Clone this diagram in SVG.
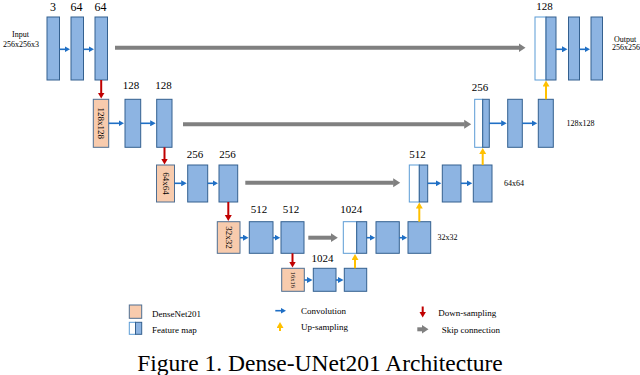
<svg xmlns="http://www.w3.org/2000/svg" width="640" height="375" viewBox="0 0 640 375">
<style>
text{font-family:"Liberation Serif","Times New Roman",serif;fill:#000}
.num{font-size:11px;text-anchor:middle}
.num1{font-size:12px;text-anchor:middle}
.sm{font-size:8px;text-anchor:middle}
.rot{font-size:9px;text-anchor:middle}
.leg{font-size:9px}
.cap{font-size:23.5px;text-anchor:middle}
.b{fill:#8DB4E2;stroke:#34608F;stroke-width:1}
.o{fill:#F8CBAD;stroke:#4E6E92;stroke-width:1}
.w{fill:#fff;stroke:#5B9BD5;stroke-width:1}
.conv{stroke:#1F6FC5;stroke-width:1.6;fill:none;marker-end:url(#mb)}
.skip{stroke:#808080;stroke-width:4;fill:none;marker-end:url(#mg)}
.down{stroke:#C00000;stroke-width:2;fill:none;marker-end:url(#mr)}
.up{stroke:#FFC000;stroke-width:2;fill:none;marker-end:url(#my)}
</style>
<defs>
<marker id="mb" markerUnits="userSpaceOnUse" markerWidth="6" markerHeight="6" refX="0.5" refY="3" orient="auto"><path d="M0,0 L5.5,3 L0,6 z" fill="#1F6FC5"/></marker>
<marker id="mg" markerUnits="userSpaceOnUse" markerWidth="8" markerHeight="10" refX="0.5" refY="5" orient="auto"><path d="M0,0.5 L7,5 L0,9.5 z" fill="#808080"/></marker>
<marker id="mr" markerUnits="userSpaceOnUse" markerWidth="8" markerHeight="8" refX="0.5" refY="3.5" orient="auto"><path d="M0,0 L6,3.5 L0,7 z" fill="#C00000"/></marker>
<marker id="my" markerUnits="userSpaceOnUse" markerWidth="8" markerHeight="8" refX="0.5" refY="3.5" orient="auto"><path d="M0,0 L6,3.5 L0,7 z" fill="#FFC000"/></marker>
</defs>

<!-- Level 1 -->
<g id="input-label"><text class="sm" x="20.5" y="37">Input</text><text class="sm" x="21" y="46.5">256x256x3</text></g>
<g id="e1a"><rect class="b" x="47" y="17" width="12.5" height="63"/><text class="num1" x="53" y="11">3</text></g>
<g id="e1b"><rect class="b" x="71" y="17" width="12.5" height="63"/><text class="num1" x="76.5" y="11">64</text></g>
<g id="e1c"><rect class="b" x="95" y="17" width="12.5" height="63"/><text class="num1" x="100.5" y="11">64</text></g>
<g id="d1a"><rect class="w" x="535" y="17" width="11" height="63"/><rect class="b" x="546" y="17" width="10" height="63"/><text class="num" x="544.5" y="9.5">128</text></g>
<g id="d1b"><rect class="b" x="568.5" y="17" width="11" height="63"/></g>
<g id="d1c"><rect class="b" x="591" y="17" width="11.5" height="63"/></g>
<g id="output-label"><text class="sm" x="625" y="42">Output</text><text class="sm" x="626" y="50">256x256</text></g>

<!-- Level 2 -->
<g id="e2o"><rect class="o" x="93.3" y="99.3" width="15.4" height="48"/><text class="rot" transform="translate(101,123.3) rotate(90)" y="3">128x128</text></g>
<g id="e2a"><rect class="b" x="125" y="99.3" width="15.7" height="48"/><text class="num" x="131" y="89">128</text></g>
<g id="e2b"><rect class="b" x="156.7" y="99.3" width="15.3" height="48"/><text class="num" x="163.5" y="89">128</text></g>
<g id="d2a"><rect class="w" x="474.7" y="99.3" width="8" height="48"/><rect class="b" x="482.7" y="99.3" width="6.6" height="48"/><text class="num" x="480" y="90.5">256</text></g>
<g id="d2b"><rect class="b" x="507.7" y="99.3" width="14.6" height="48"/></g>
<g id="d2c"><rect class="b" x="538.3" y="99.3" width="15" height="48"/></g>
<g id="l2-label"><text class="sm" x="580.5" y="125.5">128x128</text></g>

<!-- Level 3 -->
<g id="e3o"><rect class="o" x="156.5" y="165" width="18" height="37"/><text class="rot" transform="translate(165.5,183.5) rotate(90)" y="3">64x64</text></g>
<g id="e3a"><rect class="b" x="187.7" y="165" width="20" height="37"/><text class="num" x="195" y="158.3">256</text></g>
<g id="e3b"><rect class="b" x="219" y="165" width="18.7" height="37"/><text class="num" x="227.5" y="158.3">256</text></g>
<g id="d3a"><rect class="w" x="409.3" y="165" width="10" height="37"/><rect class="b" x="419.3" y="165" width="8.4" height="37"/><text class="num" x="417.5" y="158.3">512</text></g>
<g id="d3b"><rect class="b" x="442.3" y="165" width="18.7" height="37"/></g>
<g id="d3c"><rect class="b" x="473.3" y="165" width="18.7" height="37"/></g>
<g id="l3-label"><text class="sm" x="514" y="186">64x64</text></g>

<!-- Level 4 -->
<g id="e4o"><rect class="o" x="217.3" y="221.7" width="22.7" height="31.6"/><text class="rot" transform="translate(228.6,237.5) rotate(90)" y="3">32x32</text></g>
<g id="e4a"><rect class="b" x="249.3" y="221.7" width="23.7" height="31.6"/><text class="num" x="259" y="212.7">512</text></g>
<g id="e4b"><rect class="b" x="281" y="221.7" width="23" height="31.6"/><text class="num" x="291" y="212.7">512</text></g>
<g id="d4a"><rect class="w" x="343.3" y="221.7" width="13.4" height="31.6"/><rect class="b" x="356.7" y="221.7" width="10" height="31.6"/><text class="num" x="351.2" y="212.7">1024</text></g>
<g id="d4b"><rect class="b" x="376" y="221.7" width="23.3" height="31.6"/></g>
<g id="d4c"><rect class="b" x="408" y="221.7" width="22.7" height="31.6"/></g>
<g id="l4-label"><text class="sm" x="447.5" y="240">32x32</text></g>

<!-- Level 5 -->
<g id="b5o"><rect class="o" x="281.7" y="268.3" width="22.6" height="23"/><text style="font-size:6.5px;text-anchor:middle" transform="translate(293,279.8) rotate(90)" y="2.2">16x16</text></g>
<g id="b5a"><rect class="b" x="313.3" y="268.3" width="22.7" height="23"/><text class="num" x="322.5" y="262">1024</text></g>
<g id="b5b"><rect class="b" x="344.3" y="268.3" width="22.4" height="23"/></g>

<!-- Connectors -->
<g id="connectors">
<line class="conv" x1="59.5" y1="49.3" x2="65" y2="49.3"/>
<line class="conv" x1="83.5" y1="49.3" x2="89" y2="49.3"/>
<line class="conv" x1="556" y1="49.3" x2="562.5" y2="49.3"/>
<line class="conv" x1="579.5" y1="49.3" x2="585" y2="49.3"/>

<line class="conv" x1="108.7" y1="123.3" x2="119" y2="123.3"/>
<line class="conv" x1="140.7" y1="123.3" x2="150.7" y2="123.3"/>
<line class="conv" x1="489.3" y1="123.3" x2="501.7" y2="123.3"/>
<line class="conv" x1="522.3" y1="123.3" x2="532.3" y2="123.3"/>

<line class="conv" x1="174.5" y1="183.3" x2="181.7" y2="183.3"/>
<line class="conv" x1="207.7" y1="183.3" x2="213" y2="183.3"/>
<line class="conv" x1="427.7" y1="183.3" x2="436.3" y2="183.3"/>
<line class="conv" x1="461" y1="183.3" x2="467.3" y2="183.3"/>

<line class="conv" x1="240" y1="237.7" x2="243.5" y2="237.7"/>
<line class="conv" x1="273" y1="237.7" x2="275.2" y2="237.7"/>
<line class="conv" x1="366.7" y1="237.7" x2="370.2" y2="237.7"/>
<line class="conv" x1="399.3" y1="237.7" x2="402.2" y2="237.7"/>

<line class="conv" x1="304.3" y1="280" x2="307.5" y2="280"/>
<line class="conv" x1="336" y1="280" x2="338.5" y2="280"/>

<line class="skip" x1="115" y1="47.7" x2="519" y2="47.7"/>
<line class="skip" x1="183" y1="124.3" x2="464.7" y2="124.3"/>
<line class="skip" x1="245.3" y1="182.7" x2="393.7" y2="182.7"/>
<line class="skip" x1="308.3" y1="237.7" x2="331.3" y2="237.7"/>

<line class="down" x1="101.2" y1="80" x2="101.2" y2="93"/>
<line class="down" x1="164.5" y1="147.3" x2="164.5" y2="159"/>
<line class="down" x1="228.3" y1="202" x2="228.3" y2="215.5"/>
<line class="down" x1="292.5" y1="253.3" x2="292.5" y2="262"/>

<line class="up" x1="355" y1="268.3" x2="355" y2="259.5"/>
<line class="up" x1="419.3" y1="221.7" x2="419.3" y2="208"/>
<line class="up" x1="482.7" y1="165" x2="482.7" y2="153.5"/>
<line class="up" x1="546" y1="99.3" x2="546" y2="86"/>
</g>

<!-- Legend -->
<g id="legend">
<rect class="o" x="129.3" y="305" width="12.4" height="13.3"/>
<text class="leg" x="152" y="317">DenseNet201</text>
<rect class="w" x="129.3" y="322.3" width="6.2" height="12"/><rect class="b" x="135.5" y="322.3" width="6.2" height="12"/>
<text class="leg" x="152" y="332.5">Feature map</text>
<line class="conv" x1="275.3" y1="310.7" x2="281" y2="310.7"/>
<text class="leg" x="301" y="313.5">Convolution</text>
<line class="up" x1="280" y1="331" x2="280" y2="327.5"/>
<text class="leg" x="301" y="329.5">Up-sampling</text>
<line class="down" x1="422.7" y1="306.5" x2="422.7" y2="312"/>
<text class="leg" x="438.3" y="316">Down-sampling</text>
<line class="skip" x1="417.3" y1="329.3" x2="422" y2="329.3"/>
<text class="leg" x="441.7" y="332.5">Skip connection</text>
</g>

<text class="cap" x="320" y="371">Figure 1. Dense-UNet201 Architecture</text>
</svg>
